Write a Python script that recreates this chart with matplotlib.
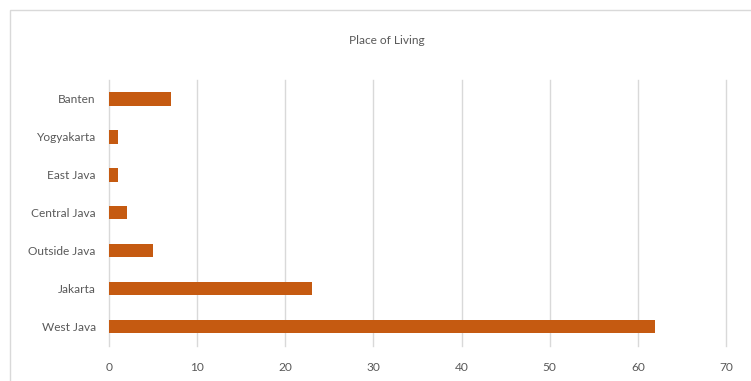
import matplotlib
matplotlib.use("Agg")
import matplotlib.pyplot as plt
from matplotlib.patches import Rectangle

# data, bottom to top as drawn
places = ["West Java", "Jakarta", "Outside Java", "Central Java",
          "East Java", "Yogyakarta", "Banten"]
counts = [62, 23, 5, 2, 1, 1, 7]
xticks = [0, 10, 20, 30, 40, 50, 60, 70]

bar_col = "#C55A11"
txt_col = "#595959"
grid_col = "#D9D9D9"

plt.rcParams['font.family'] = ['Lato', 'DejaVu Sans']

fig = plt.figure(figsize=(7.51, 3.81), dpi=100)
fig.patch.set_facecolor("white")

# chart area border (runs off the right and bottom edge)
fig.patches.append(Rectangle((10 / 751, -0.1), 1.2, 1 - 10 / 381 + 0.1,
                             transform=fig.transFigure, fill=False,
                             edgecolor=grid_col, linewidth=1.0))

ax = fig.add_axes([109 / 751, 1 - 345.5 / 381, 617 / 751, 265.5 / 381])
ax.barh(places, counts, height=0.355, color=bar_col, zorder=3)

ax.set_xlim(0, 70)
ax.set_ylim(-0.5, len(places) - 0.5)
ax.set_xticks(xticks)
for gl in ax.get_xgridlines():
    gl.set_clip_on(False)
ax.grid(axis="x", color=grid_col, linewidth=1.0, zorder=0)
for gl in ax.get_xgridlines():
    gl.set_clip_on(False)
for s in ax.spines.values():
    s.set_visible(False)
ax.tick_params(axis="both", length=0, colors=txt_col, labelsize=8.6)
ax.tick_params(axis="x", pad=12)
ax.tick_params(axis="y", pad=9.5)

fig.text(387 / 751, 1 - 41 / 381, "Place of Living", ha="center", va="center",
         color=txt_col, fontsize=8.6)

fig.savefig("out.png", dpi=100)
